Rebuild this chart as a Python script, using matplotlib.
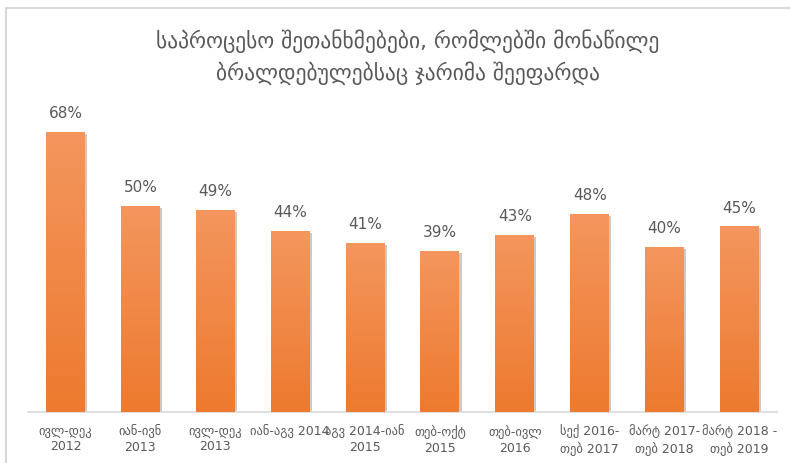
import matplotlib.pyplot as plt
import matplotlib.patheffects as pe
from matplotlib.patches import Rectangle
import numpy as np

plt.rcParams['font.family'] = ['DejaVu Sans']

periods = ["ივლ-დეკ\n2012", "იან-ივნ\n2013", "ივლ-დეკ\n2013", "იან-აგვ 2014",
           "აგვ 2014-იან\n2015", "თებ-ოქტ\n2015", "თებ-ივლ\n2016",
           "სექ 2016-\nთებ 2017", "მარტ 2017-\nთებ 2018", "მარტ 2018 -\nთებ 2019"]
shares = [68, 50, 49, 44, 41, 39, 43, 48, 40, 45]
title = "საპროცესო შეთანხმებები, რომლებში მონაწილე\nბრალდებულებსაც ჯარიმა შეეფარდა"

gray = "#595959"
top_col = np.array([244, 150, 94]) / 255
bot_col = np.array([237, 122, 46]) / 255

fig = plt.figure(figsize=(7.9, 4.63), dpi=100)
ax = fig.add_axes([28 / 790, 1 - 412 / 463, 749 / 790, 300 / 463])

x = np.arange(len(shares))
bars = ax.bar(x, shares, width=0.52, color=bot_col, zorder=2,
              path_effects=[pe.SimplePatchShadow(offset=(1.5, -1.5), alpha=0.25), pe.Normal()])

# vertical gradient inside every bar
grad = np.linspace(0, 1, 256)[:, None, None]
img = top_col * (1 - grad) + bot_col * grad
for b in bars:
    x0, w, h = b.get_x(), b.get_width(), b.get_height()
    im = ax.imshow(img, extent=(x0, x0 + w, 0, h), aspect='auto', zorder=3,
                   origin='upper', interpolation='bilinear')
    im.set_clip_path(b)

for xi, v in zip(x, shares):
    ax.text(xi, v + 2.6, f"{v}%", ha='center', va='bottom', fontsize=11, color=gray)

ax.set_xlim(-0.5, len(shares) - 0.5)
ax.set_ylim(0, 300 / 4.125)
ax.set_xticks(x)
ax.set_xticklabels(periods, fontsize=9, color=gray, linespacing=1.3)
ax.tick_params(axis='x', length=0, pad=9)
ax.set_yticks([])
for s in ['top', 'right', 'left']:
    ax.spines[s].set_visible(False)
ax.spines['bottom'].set_color("#D9D9D9")
ax.spines['bottom'].set_linewidth(1.2)

fig.text(408 / 790, 1 - 57 / 463, title, ha='center', va='center', fontsize=15.5,
         color=gray, linespacing=1.45)

# outer frame
fig.patches.append(Rectangle((6 / 790, -0.1), 1.1, 1 - 7.5 / 463 + 0.1, transform=fig.transFigure,
                             fill=False, edgecolor="#D9D9D9", linewidth=1.5))

fig.savefig("out.png", dpi=100)
